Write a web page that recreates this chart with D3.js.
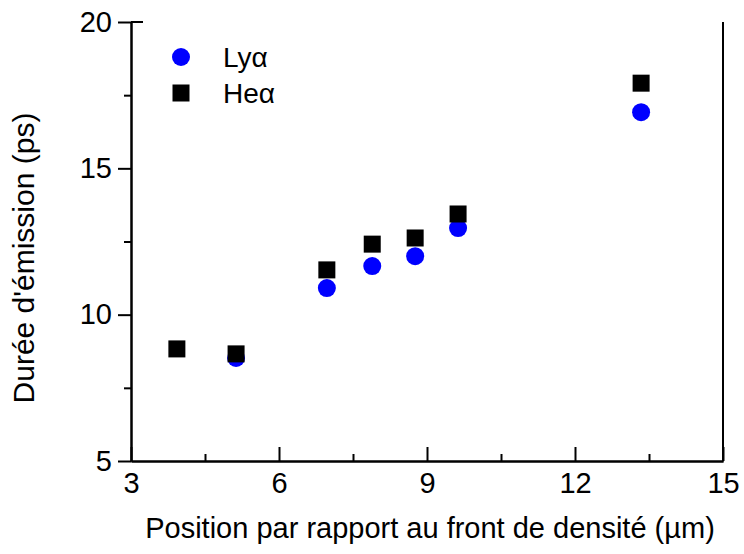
<!DOCTYPE html>
<html>
<head>
<meta charset="utf-8">
<script src="https://cdn.jsdelivr.net/npm/d3@7"></script>
<style>
  body { margin: 0; background: #fff; }
  svg { display: block; font-family: Arial, "Liberation Sans", sans-serif; }
  .axis path, .axis line { stroke: #000; stroke-width: 2; }
  .axis text { font-size: 29px; fill: #000; font-family: Arial, "Liberation Sans", sans-serif; }
</style>
</head>
<body>
<svg id="chart" width="744" height="554"></svg>
<script>
// positions (µm) et durées (ps)
const posLy = [5.13, 6.97, 7.89, 8.76, 9.63, 13.34];
const dureeLy = [8.52, 10.91, 11.66, 12.0, 12.96, 16.92];
const posHe = [3.93, 5.13, 6.97, 7.89, 8.76, 9.63, 13.34];
const dureeHe = [8.83, 8.66, 11.53, 12.41, 12.62, 13.44, 17.91];

const xMajor = [3, 6, 9, 12, 15];
const xMinor = [4.5, 7.5, 10.5, 13.5];
const yMajor = [5, 10, 15, 20];
const yMinor = [7.5, 12.5, 17.5];

const svg = d3.select('#chart');
const margin = { left: 131, right: 21, top: 22, bottom: 93 };
const W = 744, H = 554;

const x = d3.scaleLinear().domain([3, 15]).range([margin.left, W - margin.right]);
const y = d3.scaleLinear().domain([5, 20]).range([H - margin.bottom, margin.top]);

// axe x (graduations vers l'intérieur)
svg.append('g')
    .attr('class', 'axis')
    .attr('transform', `translate(0,${y(5)})`)
    .call(d3.axisBottom(x).tickValues(xMinor).tickSize(-7).tickSizeOuter(0).tickFormat(''));
const gx = svg.append('g')
    .attr('class', 'axis')
    .attr('transform', `translate(0,${y(5)})`)
    .call(d3.axisBottom(x).tickValues(xMajor).tickSize(-14).tickSizeOuter(0).tickFormat(d3.format('d')));
gx.selectAll('text').attr('y', 11).attr('dy', '0.71em');

// axe y (graduations vers l'extérieur)
svg.append('g')
    .attr('class', 'axis')
    .attr('transform', `translate(${x(3)},0)`)
    .call(d3.axisLeft(y).tickValues(yMinor).tickSize(7).tickSizeOuter(0).tickFormat(''));
svg.append('g')
    .attr('class', 'axis')
    .attr('transform', `translate(${x(3)},0)`)
    .call(d3.axisLeft(y).tickValues(yMajor).tickSize(13).tickSizeOuter(0).tickPadding(6).tickFormat(d3.format('d')));

// petit trait en haut (graduation 20 traversante)
svg.append('line')
    .attr('x1', x(3)).attr('x2', x(3) + 12)
    .attr('y1', y(20)).attr('y2', y(20))
    .attr('stroke', '#000').attr('stroke-width', 2);

// bord droit
svg.append('line')
    .attr('x1', x(15)).attr('x2', x(15))
    .attr('y1', y(5)).attr('y2', y(20))
    .attr('stroke', '#000').attr('stroke-width', 2);

// Lyα
svg.selectAll('.ly')
    .data(posLy.map((p, i) => ({ p, v: dureeLy[i] })))
    .enter()
    .append('circle')
    .attr('class', 'ly')
    .attr('cx', d => x(d.p))
    .attr('cy', d => y(d.v))
    .attr('r', 9)
    .attr('fill', '#0000ff');

// Heα
const side = 17;
svg.selectAll('.he')
    .data(posHe.map((p, i) => ({ p, v: dureeHe[i] })))
    .enter()
    .append('rect')
    .attr('class', 'he')
    .attr('x', d => x(d.p) - side / 2)
    .attr('y', d => y(d.v) - side / 2)
    .attr('width', side)
    .attr('height', side)
    .attr('fill', '#000');

// légende
const leg = svg.append('g').attr('transform', 'translate(181,57)');
leg.append('circle').attr('r', 9).attr('fill', '#0000ff');
leg.append('rect').attr('x', -side / 2).attr('y', 36 - side / 2)
    .attr('width', side).attr('height', side).attr('fill', '#000');
leg.append('text').attr('x', 42).attr('y', 0).attr('dy', '0.35em')
    .attr('font-size', 28).text('Lyα');
leg.append('text').attr('x', 42).attr('y', 36).attr('dy', '0.35em')
    .attr('font-size', 28).text('Heα');

// titres
svg.append('text')
    .attr('x', 430).attr('y', 538)
    .attr('text-anchor', 'middle')
    .attr('font-size', 29)
    .text('Position par rapport au front de densité (µm)');
svg.append('text')
    .attr('transform', 'translate(34,258) rotate(-90)')
    .attr('text-anchor', 'middle')
    .attr('font-size', 30)
    .text("Durée d'émission (ps)");
</script>
</body>
</html>
